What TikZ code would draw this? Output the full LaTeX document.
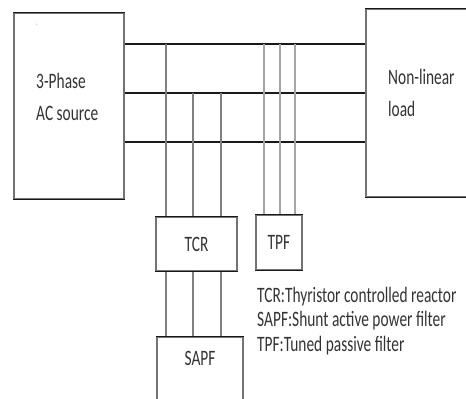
\documentclass[tikz,border=0pt]{standalone}
\usepackage{fontspec}
\setmainfont{Carlito}
\newfontfamily\cf[FakeStretch=0.7]{Carlito}
\begin{document}
\begin{tikzpicture}[x=1pt,y=-1pt,
  box/.style={draw=black!55,line width=1.2pt,fill=none,inner sep=0pt,
    append after command={(\tikzlastnode.north west) edge[hedge] (\tikzlastnode.north east)
      (\tikzlastnode.south west) edge[hedge] (\tikzlastnode.south east)}},
  hedge/.style={draw=black!90,line width=1.5pt},
  bus/.style={draw=black!90,line width=1.5pt},
  tap/.style={draw=black!50,line width=1.2pt},
  ptap/.style={draw=black!35,line width=1.2pt},
  lbl/.style={font=\cf\fontsize{22}{22}\selectfont,text=black!80,inner sep=0pt},
  leg/.style={font=\cf\fontsize{22}{22}\selectfont,text=black!80,inner sep=0pt,anchor=west}]
\useasboundingbox (0,0) rectangle (466,399);
\clip (0,0) rectangle (466,399);
% boxes
\node[box,minimum width=110pt,minimum height=186pt] (src) at (69,106) {};
\node[box,minimum width=110pt,minimum height=188pt] (load) at (421,103) {};
\node[box,minimum width=81pt,minimum height=54pt] (tcr) at (196.5,244) {};
\node[box,minimum width=46pt,minimum height=55pt] (tpf) at (279,242.5) {};
\node[box,minimum width=86pt,minimum height=80pt] (sapf) at (200,377) {};
% labels
\node[lbl,anchor=west] (t1) at (36,81) {3-Phase};
\node[lbl,anchor=west] (t2) at (36,113) {AC source};
\node[lbl,anchor=west] (t3) at (388,77) {Non-linear};
\node[lbl,anchor=west] (t4) at (388,109) {load};
\node[font=\cf\fontsize{8}{8}\selectfont,text=black!50] (mk) at (37,27) {'};
\node[lbl] (tcrl) at (tcr.center) {TCR};
\node[lbl] (tpfl) at (tpf.center) {TPF};
\node[lbl] (sapfl) at (200,358) {SAPF};
\node[leg] (g1) at (257,297) {TCR:Thyristor controlled reactor};
\node[leg] (g2) at (257,321) {SAPF:Shunt active power filter};
\node[leg] (g3) at (257,346) {TPF:Tuned passive filter};
% bus coordinates
\coordinate (ya) at (0,44);
\coordinate (yb) at (0,93);
\coordinate (yc) at (0,142);
\draw[bus] (src.east |- ya) -- (load.west |- ya);
\draw[bus] (src.east |- yb) -- (load.west |- yb);
\draw[bus] (src.east |- yc) -- (load.west |- yc);
% TCR taps
\coordinate (x1) at (166,0);
\coordinate (x2) at (193,0);
\coordinate (x3) at (221,0);
\draw[tap] (x1 |- ya) -- (x1 |- tcr.north);
\draw[tap] (x2 |- yb) -- (x2 |- tcr.north);
\draw[tap] (x3 |- yb) -- (x3 |- tcr.north);
\draw[tap] (x1 |- tcr.south) -- (x1 |- sapf.north);
\draw[tap] (x2 |- tcr.south) -- (x2 |- sapf.north);
\draw[tap] (x3 |- tcr.south) -- (x3 |- sapf.north);
% TPF taps
\coordinate (p1) at (264,0);
\coordinate (p2) at (280,0);
\coordinate (p3) at (295,0);
\draw[ptap] (p1 |- ya) -- (p1 |- tpf.north);
\draw[ptap] (p2 |- ya) -- (p2 |- tpf.north);
\draw[ptap] (p3 |- ya) -- (p3 |- tpf.north);
\end{tikzpicture}
\end{document}
